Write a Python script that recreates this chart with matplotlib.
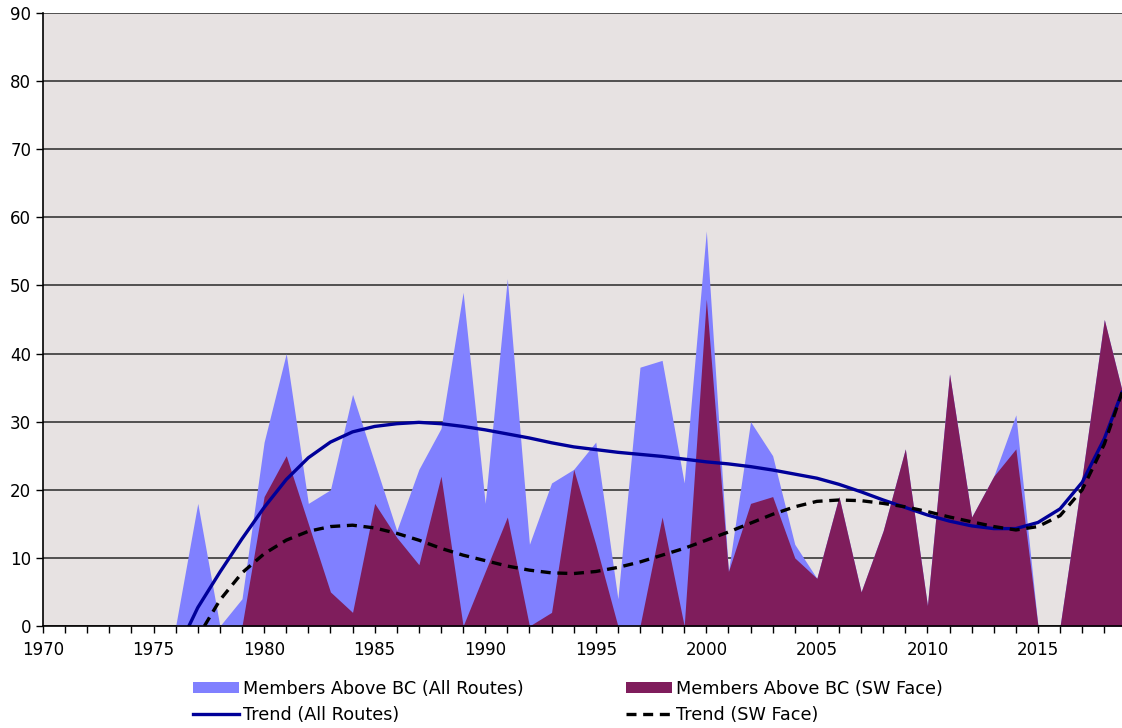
import matplotlib
matplotlib.use('Agg')
import matplotlib.pyplot as plt
import numpy as np

# Datos (1970-2019)
anios = np.arange(1970, 2020)
todas_rutas = [0, 0, 0, 0, 0, 0,
               0, 18, 0, 4, 27, 40, 18, 20, 34, 24,
               14, 23, 29, 49, 18, 51, 12, 21, 23, 27,
               4, 38, 39, 21, 58, 8, 30, 25, 12, 7,
               19, 5, 14, 26, 3, 37, 16, 22, 31, 0,
               0, 22, 45, 32]
cara_sw = [0, 0, 0, 0, 0, 0,
           0, 0, 0, 0, 19, 25, 15, 5, 2, 18,
           13, 9, 22, 0, 8, 16, 0, 2, 23, 12,
           0, 0, 16, 0, 48, 8, 18, 19, 10, 7,
           19, 5, 14, 26, 3, 37, 16, 22, 26, 0,
           0, 22, 45, 32]

# Lineas de tendencia (polinomicas en el original)
anios_tend_todas = [1976.6] + list(range(1977, 2019)) + [2018.8]
tend_todas = [0, 2.7, 7.9, 12.8, 17.4, 21.5, 24.7, 27.0, 28.5, 29.3, 29.7,
              29.9, 29.7, 29.3, 28.8, 28.2, 27.6, 26.9, 26.3, 25.9, 25.5,
              25.2, 24.9, 24.5, 24.1, 23.8, 23.4, 22.9, 22.3, 21.7, 20.8,
              19.7, 18.5, 17.4, 16.3, 15.4, 14.7, 14.3, 14.3, 15.2, 17.2,
              21.1, 27.5, 34.3]
anios_tend_sw = [1977.3] + list(range(1978, 2019)) + [2018.8]
tend_sw = [0, 3.8, 7.8, 10.6, 12.6, 13.9, 14.6, 14.8, 14.4, 13.6, 12.6,
           11.4, 10.4, 9.6, 8.8, 8.2, 7.8, 7.7, 8.0, 8.6, 9.4,
           10.4, 11.4, 12.6, 13.8, 15.1, 16.4, 17.5, 18.3, 18.5, 18.4,
           18.0, 17.5, 16.8, 16.0, 15.3, 14.6, 14.1, 14.6, 16.2, 20.0,
           26.7, 34.3]

etiquetas = ['Members Above BC (All Routes)', 'Members Above BC (SW Face)',
             'Trend (All Routes)', 'Trend (SW Face)']

azul = '#8080FF'
morado = '#7F1D5C'
marino = '#000099'
fondo = '#E7E2E2'

fig = plt.figure(figsize=(11.22, 7.28), dpi=100)
ax = fig.add_axes([43/1122, 1 - 626/728, 1 - 43/1122, (626 - 13)/728])
ax.set_facecolor(fondo)

a1 = ax.fill_between(anios, todas_rutas, color=azul, lw=0, label=etiquetas[0])
a2 = ax.fill_between(anios, cara_sw, color=morado, lw=0, label=etiquetas[1])
l1, = ax.plot(anios_tend_todas, tend_todas, color=marino, lw=2.4,
              solid_joinstyle='round', label=etiquetas[2])
l2, = ax.plot(anios_tend_sw, tend_sw, color='black', lw=2.4, ls=(0, (3, 2)),
              label=etiquetas[3])

ax.set_xlim(1970, 2018.8)
ax.set_ylim(0, 90)
ax.set_yticks(np.arange(0, 91, 10))
ax.set_xticks(np.arange(1970, 2019, 1))
ax.set_xticklabels([str(a) if a % 5 == 0 else '' for a in range(1970, 2019)])
ax.tick_params(axis='both', labelsize=12, length=5, width=1, color='black', direction='out')
ax.tick_params(axis='x', pad=6)

ax.yaxis.grid(True, color='#505050', lw=1.4)
ax.set_axisbelow(True)
for lado in ['top', 'right']:
    ax.spines[lado].set_visible(False)
for lado in ['left', 'bottom']:
    ax.spines[lado].set_color('black')
    ax.spines[lado].set_linewidth(1.2)
    ax.spines[lado].set_zorder(5)

leg = fig.legend([a1, l1, a2, l2], [etiquetas[0], etiquetas[2], etiquetas[1], etiquetas[3]],
                 ncol=2, loc='upper left', bbox_to_anchor=(193/1122, 1 - 680/728),
                 frameon=False, fontsize=12.7, handlelength=2.6, handleheight=0.6,
                 handletextpad=0.25, columnspacing=5.8, labelspacing=0.45,
                 borderaxespad=0, borderpad=0)

plt.savefig('out.png', dpi=100)
